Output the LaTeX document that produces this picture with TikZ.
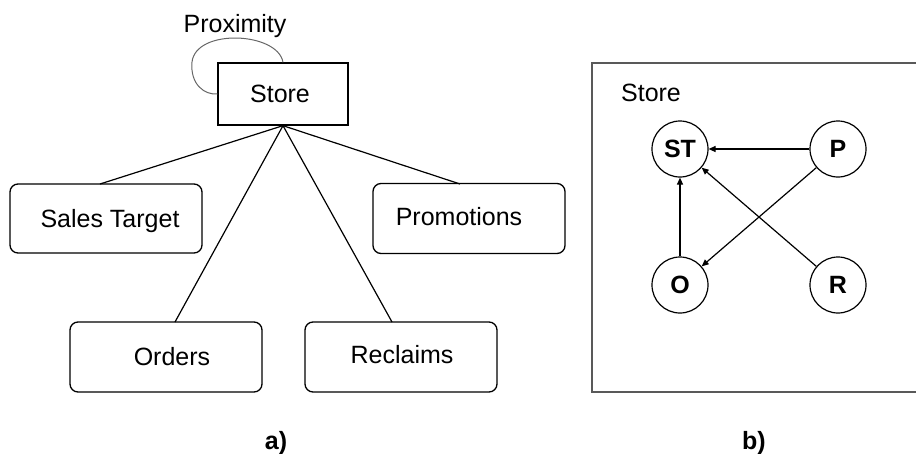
\documentclass[tikz,border=0pt]{standalone}
\usepackage{fontspec}
\setmainfont{Liberation Sans}
\usetikzlibrary{arrows.meta}
\begin{document}
\begin{tikzpicture}[x=1pt,y=-1pt,
  lbl/.style={inner sep=0pt,anchor=base,font=\fontsize{25}{30}\selectfont},
  boldlbl/.style={inner sep=0pt,anchor=base,font=\fontsize{25}{30}\selectfont\bfseries},
  entbox/.style={draw,line width=1.3pt,rounded corners=8pt},
  plain/.style={draw,line width=1.3pt},
  conn/.style={line width=1.2pt},
  vnode/.style={draw,circle,line width=1.2pt,minimum size=56pt,inner sep=0pt,font=\fontsize{25}{30}\selectfont\bfseries},
  arr/.style={line width=1.2pt,-{Triangle[length=7pt,width=6pt]}}]
\useasboundingbox (0,0) rectangle (916,453);
% panel a)
\node[plain,minimum width=130pt,minimum height=62pt,inner sep=0pt] (store) at (283,94) {};
\node[lbl] (storet) at (280,102) {Store};
\node[lbl] (prox) at (235,32) {Proximity};
\draw[gray!80!black,line width=1pt] (store.north) .. controls (278,32) and (196,28) .. (192,62) .. controls (190,85) and (205,95) .. (store.west);
\node[entbox,minimum width=192pt,minimum height=69pt,inner sep=0pt] (st) at (106,218.5) {};
\node[lbl] at (110,227) {Sales Target};
\node[entbox,minimum width=192pt,minimum height=70pt,inner sep=0pt] (pr) at (469,218.5) {};
\node[lbl] at (459,225) {Promotions};
\node[entbox,minimum width=192pt,minimum height=70pt,inner sep=0pt] (or) at (166,357) {};
\node[lbl] at (172,365) {Orders};
\node[entbox,minimum width=192pt,minimum height=70pt,inner sep=0pt] (re) at (401,357) {};
\node[lbl] at (402,363) {Reclaims};
\coordinate (stt) at (100,184);
\coordinate (prt) at (460,184);
\coordinate (ort) at (175,322);
\coordinate (ret) at (392,322);
\draw[conn] (store.south) -- (stt);
\draw[conn] (store.south) -- (prt);
\draw[conn] (store.south) -- (ort);
\draw[conn] (store.south) -- (ret);
\node[boldlbl] (la) at (276,449) {a)};
% panel b)
\coordinate (bxa) at (916,63);
\coordinate (bxb) at (592,63);
\coordinate (bxc) at (592,392);
\coordinate (bxd) at (916,392);
\draw[gray!70!black,line width=1.2pt] (bxa) -- (bxb) -- (bxc) -- (bxd);
\node[lbl] (storeb) at (651,101) {Store};
\node[vnode] (ST) at (680,149) {ST};
\node[vnode] (P) at (838,149) {P};
\node[vnode] (O) at (680,285) {O};
\node[vnode] (R) at (838,285) {R};
\draw[arr] (P) -- (ST);
\draw[arr] (R) -- (ST);
\draw[arr] (P) -- (O);
\draw[arr] (O) -- (ST);
\node[boldlbl] (lb) at (754,449) {b)};
\end{tikzpicture}
\end{document}
